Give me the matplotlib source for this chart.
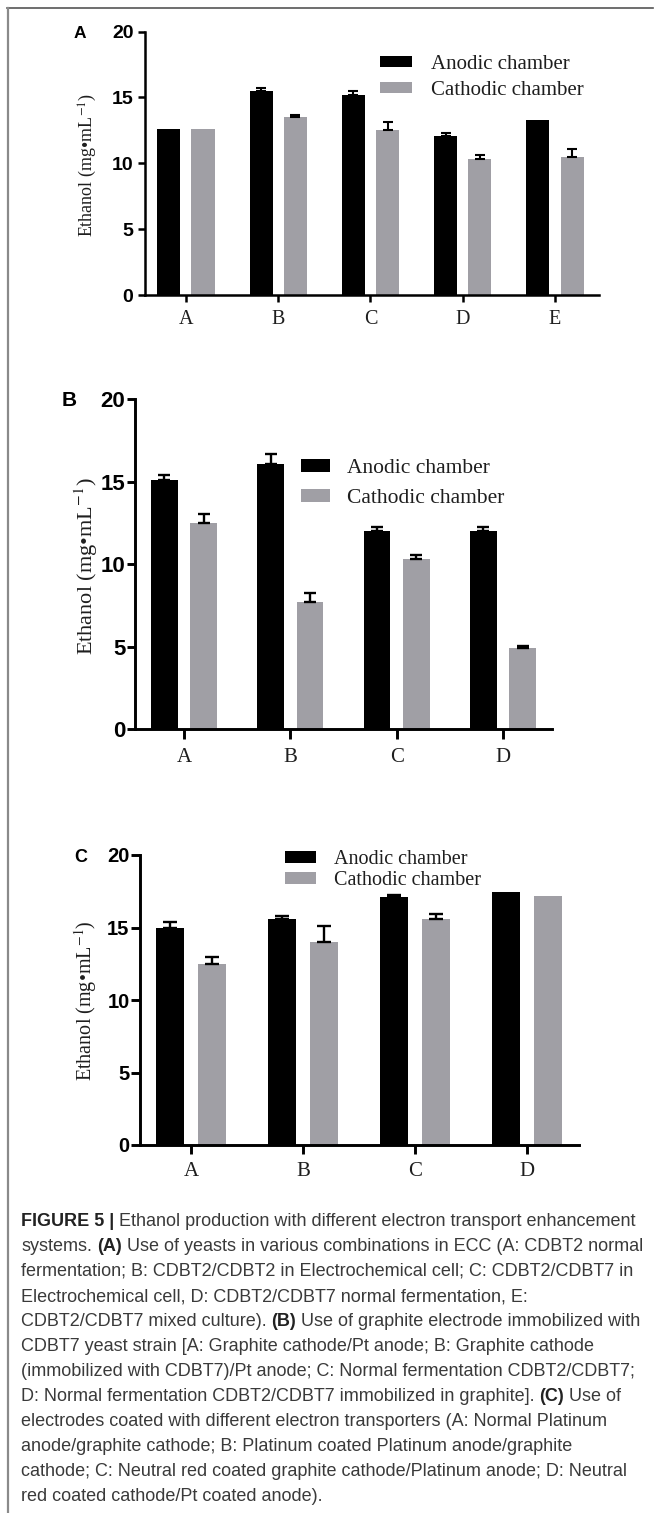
import numpy as np
import matplotlib
matplotlib.use('Agg')
import matplotlib.pyplot as plt
from matplotlib.patches import Patch
from matplotlib.lines import Line2D

# ---------------- data ----------------
series_names = ['Anodic chamber', 'Cathodic chamber']

cats_A = ['A', 'B', 'C', 'D', 'E']
anodic_A = [12.6, 15.5, 15.15, 12.05, 13.3]
anodic_A_err = [0, 0.2, 0.33, 0.25, 0]
cathodic_A = [12.6, 13.5, 12.55, 10.35, 10.5]
cathodic_A_err = [0, 0.13, 0.55, 0.25, 0.55]

cats_B = ['A', 'B', 'C', 'D']
anodic_B = [15.1, 16.1, 12.0, 12.0]
anodic_B_err = [0.3, 0.57, 0.26, 0.26]
cathodic_B = [12.5, 7.7, 10.3, 4.9]
cathodic_B_err = [0.56, 0.56, 0.26, 0.14]

cats_C = ['A', 'B', 'C', 'D']
anodic_C = [15.0, 15.6, 17.1, 17.45]
anodic_C_err = [0.35, 0.18, 0.14, 0]
cathodic_C = [12.5, 14.0, 15.6, 17.15]
cathodic_C_err = [0.5, 1.08, 0.3, 0]

y_ticks = [0, 5, 10, 15, 20]
y_label = 'Ethanol (mg\u2022mL$^{-1}$)'

caption_lines = [
    [('FIGURE 5 |', True), ('Ethanol production with different electron transport enhancement', False)],
    [('systems.', False), ('(A)', True), ('Use of yeasts in various combinations in ECC (A: CDBT2 normal', False)],
    [('fermentation; B: CDBT2/CDBT2 in Electrochemical cell; C: CDBT2/CDBT7 in', False)],
    [('Electrochemical cell, D: CDBT2/CDBT7 normal fermentation, E:', False)],
    [('CDBT2/CDBT7 mixed culture).', False), ('(B)', True), ('Use of graphite electrode immobilized with', False)],
    [('CDBT7 yeast strain [A: Graphite cathode/Pt anode; B: Graphite cathode', False)],
    [('(immobilized with CDBT7)/Pt anode; C: Normal fermentation CDBT2/CDBT7;', False)],
    [('D: Normal fermentation CDBT2/CDBT7 immobilized in graphite].', False), ('(C)', True), ('Use of', False)],
    [('electrodes coated with different electron transporters (A: Normal Platinum', False)],
    [('anode/graphite cathode; B: Platinum coated Platinum anode/graphite', False)],
    [('cathode; C: Neutral red coated graphite cathode/Platinum anode; D: Neutral', False)],
    [('red coated cathode/Pt coated anode).', False)],
]

# ---------------- style ----------------
plt.rcParams['mathtext.fontset'] = 'stix'
SERIF = ['Liberation Serif', 'DejaVu Serif']
SANS = ['Liberation Sans', 'DejaVu Sans']
BLACK = '#000000'
GRAY = '#a09fa5'
TXT = '#1e1e1e'

W, H = 655, 1513
fig = plt.figure(figsize=(W / 100, H / 100), dpi=100)


def rect(l, t, r, b):
    return [l / W, 1 - b / H, (r - l) / W, (b - t) / H]


def fx(x):
    return x / W


def fy(y):
    return 1 - y / H


def panel(cats, an, an_err, ca, ca_err, st):
    ax = fig.add_axes(rect(*st['rect']))
    x = np.arange(len(cats))
    w, off = 0.25, 0.185
    ax.bar(x - off, an, w, color=BLACK, zorder=2)
    ax.bar(x + off, ca, w, color=GRAY, zorder=2)
    for xs, v, e in ((x - off, an, an_err), (x + off, ca, ca_err)):
        v = np.asarray(v, float)
        e = np.asarray(e, float)
        m = e > 0
        ax.errorbar(xs[m], v[m], yerr=[np.zeros(m.sum()), e[m]], fmt='none',
                    ecolor='black', elinewidth=st['elw'], capsize=st['cap'],
                    capthick=st['elw'], zorder=3)
    ax.set_xlim(*st['xlim'])
    ax.set_ylim(0, 20)
    for s in ('top', 'right'):
        ax.spines[s].set_visible(False)
    for s in ('left', 'bottom'):
        ax.spines[s].set_linewidth(st['slw'])
    ax.set_xticks(x, cats, fontfamily=SERIF, fontsize=st['xfs'], color=TXT)
    ax.set_yticks(y_ticks, [str(t) for t in y_ticks], fontfamily=SANS,
                  fontweight='bold', fontsize=st['yfs'], color='black')
    ax.tick_params(axis='x', length=st['xtl'], width=st['slw'], pad=st['xpad'])
    ax.tick_params(axis='y', length=st['ytl'], width=st['slw'], pad=st['ypad'])
    handles = [Patch(facecolor=BLACK, edgecolor='none', label=series_names[0]),
               Patch(facecolor=GRAY, edgecolor='none', label=series_names[1])]
    lf = st['lfs']
    lpx = lf * 100 / 72
    leg = ax.legend(handles=handles, loc='upper left',
                    bbox_to_anchor=(fx(st['leg'][0]), fy(st['leg'][1])),
                    bbox_transform=fig.transFigure, frameon=False,
                    prop={'family': SERIF, 'size': lf},
                    handlelength=st['hl'] / lpx, handleheight=st['hh'] / lpx,
                    handletextpad=st['htp'] / lpx, labelspacing=st['ls'],
                    borderpad=0, borderaxespad=0)
    for t in leg.get_texts():
        t.set_color(TXT)
    fig.text(fx(st['ylab'][0]), fy(st['ylab'][1]), y_label, rotation=90,
             ha='center', va='center', fontfamily=SERIF, fontsize=st['ylfs'], color=TXT)
    fig.text(fx(st['let'][0]), fy(st['let'][1]), st['letter'], ha='center', va='center',
             fontfamily=SANS, fontweight='bold', fontsize=st['letfs'], color='black')
    return ax


stA = dict(rect=(145, 31.5, 599, 295), xlim=(-0.444, 4.477), elw=1.5, cap=3.8, slw=1.8,
           xfs=14.5, yfs=14, xtl=5, xpad=6, ytl=4.8, ypad=3.5,
           lfs=15, leg=(380, 55), hl=32, hh=9.5, htp=19, ls=0.32,
           ylab=(88, 165), ylfs=13, let=(80, 33), letter='A', letfs=12.5)
stB = dict(rect=(134.5, 399.3, 552, 729.3), xlim=(-0.466, 3.461), elw=1.7, cap=4.2, slw=2.1,
           xfs=15, yfs=16, xtl=7.5, xpad=6, ytl=5.5, ypad=1.0,
           lfs=15.5, leg=(301, 459), hl=29, hh=12, htp=17, ls=0.52,
           ylab=(86, 566), ylfs=16, let=(69, 400), letter='B', letfs=15)
stC = dict(rect=(140, 855, 578.5, 1145), xlim=(-0.455, 3.46), elw=1.7, cap=5.0, slw=2.1,
           xfs=15, yfs=14.5, xtl=6.5, xpad=5.5, ytl=6.5, ypad=1.0,
           lfs=14.5, leg=(285, 850), hl=31, hh=11, htp=18, ls=0.1,
           ylab=(86, 1001), ylfs=14.5, let=(81, 857), letter='C', letfs=13)

panel(cats_A, anodic_A, anodic_A_err, cathodic_A, cathodic_A_err, stA)
panel(cats_B, anodic_B, anodic_B_err, cathodic_B, cathodic_B_err, stB)
panel(cats_C, anodic_C, anodic_C_err, cathodic_C, cathodic_C_err, stC)

# ---------------- caption ----------------
r = fig.canvas.get_renderer()


def text_w(s, size, bold):
    t = fig.text(0, 0, s, fontsize=size, fontweight='bold' if bold else 'normal',
                 fontfamily=SANS)
    w = t.get_window_extent(r).width
    t.remove()
    return w


def line_w(segs, size):
    sp = text_w('a a', size, False) - text_w('aa', size, False)
    return sum(text_w(s, size, b) for s, b in segs) + sp * (len(segs) - 1)


base = 10.0
cap_size = base * 618.0 / line_w(caption_lines[0], base)
space = text_w('a a', cap_size, False) - text_w('aa', cap_size, False)

x0, y0, dy = 21.0, 1226.0, 25.0
for i, segs in enumerate(caption_lines):
    x = x0
    for s, b in segs:
        t = fig.text(fx(x), fy(y0 + i * dy), s, fontsize=cap_size,
                     fontweight='bold' if b else 'normal', fontfamily=SANS,
                     color='#222222' if b else '#3a3a3a', ha='left', va='baseline')
        x += t.get_window_extent(r).width + space

# ---------------- frame ----------------
fig.add_artist(Line2D([fx(7), fx(653)], [fy(8), fy(8)], color='#555555', lw=1.2))
fig.add_artist(Line2D([fx(7.5), fx(7.5)], [fy(8), 0], color='#8a8a8a', lw=1.6))

fig.savefig('out.png', dpi=100)
